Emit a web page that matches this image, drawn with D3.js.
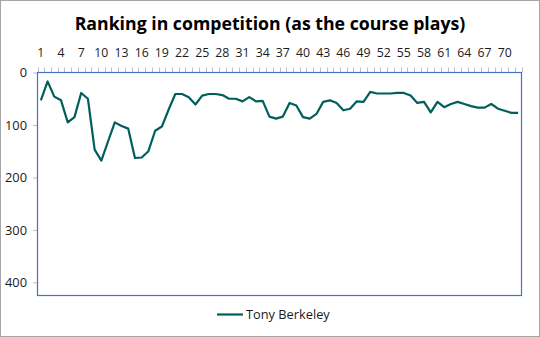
<!DOCTYPE html>
<html>
<head>
<meta charset="utf-8">
<script src="https://cdn.jsdelivr.net/npm/d3@7"></script>
<style>
  html, body { margin: 0; padding: 0; background: #fff; }
  svg { display: block; font-family: "Open Sans", "Noto Sans", sans-serif; }
</style>
</head>
<body>
<svg id="chart" width="540" height="337"></svg>
<script>
// Hole-by-hole ranking (lower is better; axis reversed)
const seriesName = "Tony Berkeley";
const holes = d3.range(1, 73);
const ranking = [
  53, 17, 46, 53, 95, 85, 39, 50, 147, 168,
  131, 95, 102, 107, 163, 162, 150, 111, 103, 71,
  41, 41, 47, 61, 44, 41, 41, 43, 50, 50,
  55, 47, 55, 54, 84, 88, 84, 58, 63, 85,
  88, 79, 56, 53, 58, 72, 69, 55, 56, 37,
  40, 40, 40, 39, 39, 44, 58, 56, 76, 56,
  66, 60, 56, 60, 64, 67, 67, 60, 69, 73,
  77, 77
];
const yTicks = [0, 100, 200, 300, 400];
const xTickLabels = holes.filter(h => (h - 1) % 3 === 0);

const svg = d3.select("#chart");
const W = 540, H = 337;
const plot = { left: 37.5, right: 521.5, top: 72.5, bottom: 295.5 };

// outer chart border
svg.append("rect")
  .attr("x", 0.5).attr("y", 0.5)
  .attr("width", W - 1).attr("height", H - 1)
  .attr("fill", "#fff").attr("stroke", "#a6a6a6");

// title
svg.append("text")
  .attr("x", 270).attr("y", 30)
  .attr("text-anchor", "middle")
  .attr("font-size", 17.7).attr("font-weight", "bold")
  .attr("fill", "#000")
  .text("Ranking in competition (as the course plays)");

const x = d3.scaleBand()
  .domain(holes)
  .range([plot.left, plot.right]);

const y = d3.scaleLinear()
  .domain([0, 425])
  .range([plot.top, plot.bottom]);

// top category axis: small ticks at every category boundary
const tickG = svg.append("g");
const bounds = holes.map(h => x(h)).concat([plot.right]);
tickG.selectAll("line")
  .data(bounds)
  .join("line")
  .attr("x1", d => Math.round(d) + 0.5).attr("x2", d => Math.round(d) + 0.5)
  .attr("y1", plot.top - 5).attr("y2", plot.top)
  .attr("stroke", "#bfbfbf").attr("stroke-width", 1);

svg.append("g")
  .selectAll("text")
  .data(xTickLabels)
  .join("text")
  .attr("x", d => x(d) + x.bandwidth() / 2)
  .attr("y", 57)
  .attr("text-anchor", "middle")
  .attr("font-size", 12.3)
  .attr("fill", "#1a1a1a")
  .text(d => d);

// left value axis
const yAxis = d3.axisLeft(y).tickValues(yTicks).tickSize(4).tickPadding(6);
const yG = svg.append("g")
  .attr("transform", `translate(${plot.left - 0.5},0)`)
  .call(yAxis);
yG.select(".domain").remove();
yG.selectAll(".tick line").attr("stroke", "#bfbfbf");
yG.selectAll(".tick text")
  .attr("font-size", 12.8)
  .attr("fill", "#1a1a1a")
  .attr("font-family", "Open Sans, Noto Sans, sans-serif");

// plot area border
svg.append("rect")
  .attr("x", plot.left).attr("y", plot.top)
  .attr("width", plot.right - plot.left)
  .attr("height", plot.bottom - plot.top)
  .attr("fill", "none")
  .attr("stroke", "#4472c4").attr("stroke-width", 1.2);

// series line
const line = d3.line()
  .x((d, i) => x(holes[i]) + x.bandwidth() / 2)
  .y(d => y(d));

svg.append("path")
  .datum(ranking)
  .attr("d", line)
  .attr("fill", "none")
  .attr("stroke", "#005f5a")
  .attr("stroke-width", 2.2)
  .attr("stroke-linejoin", "round");

// legend
const lg = svg.append("g").attr("transform", "translate(217,314.5)");
lg.append("line")
  .attr("x1", 0).attr("x2", 26)
  .attr("y1", 0).attr("y2", 0)
  .attr("stroke", "#005f5a").attr("stroke-width", 2.2);
lg.append("text")
  .attr("x", 29).attr("y", 4.5)
  .attr("font-size", 12.8)
  .attr("fill", "#1a1a1a")
  .text(seriesName);
</script>
</body>
</html>
